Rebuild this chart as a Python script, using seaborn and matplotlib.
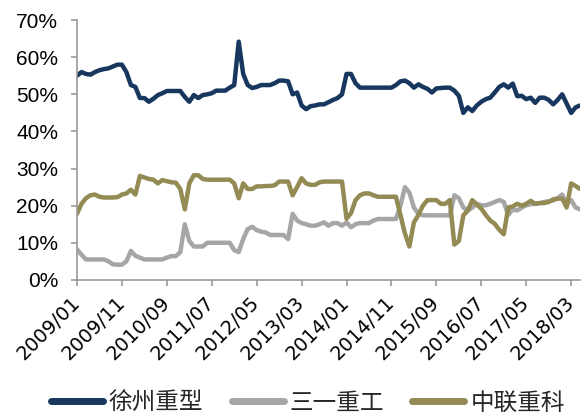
import numpy as np
import pandas as pd
import seaborn as sns
import matplotlib.pyplot as plt
from matplotlib.lines import Line2D

# Monthly market share (%), 2009/01 - 2018/05
months = pd.date_range("2009-01-01", periods=113, freq="MS").strftime("%Y/%m").tolist()

xugong = [55, 56, 55.5, 55.3, 56, 56.5, 56.8, 57, 57.5, 58,
          58, 56, 52.5, 52, 49, 49, 48, 48.8, 49.8, 50.3,
          50.9, 50.9, 50.9, 50.9, 49.3, 48, 49.8, 49, 49.8, 50,
          50.3, 51, 51, 51, 51.8, 52.5, 64.2, 55.5, 52.5, 51.7,
          52, 52.5, 52.5, 52.5, 53, 53.7, 53.7, 53.5, 50, 50.5,
          47, 46, 46.8, 47, 47.3, 47.3, 47.9, 48.5, 49, 50,
          55.5, 55.5, 53, 51.8, 51.8, 51.8, 51.8, 51.8, 51.8, 51.8,
          51.8, 52.5, 53.5, 53.7, 53, 51.8, 52.7, 52, 51.5, 50.5,
          51.6, 51.7, 51.8, 51.8, 51, 49.6, 45, 46.5, 45.5, 47,
          48, 48.7, 49.1, 50.5, 52, 52.7, 51.8, 52.9, 49.5, 49.6,
          48.7, 49.1, 47.7, 49.1, 49.1, 48.5, 47.3, 48.5, 50, 47.5,
          45, 46.5, 47]

sany = [8.2, 6.8, 5.5, 5.5, 5.5, 5.5, 5.5, 5, 4.2, 4.1,
        4.1, 5, 7.8, 6.5, 6, 5.5, 5.5, 5.5, 5.5, 5.5,
        6, 6.4, 6.4, 7.5, 15, 10.5, 9, 9, 9, 10,
        10, 10, 10, 10, 10, 8, 7.5, 11, 13.7, 14.3,
        13.4, 13, 12.8, 12.1, 12.1, 12.1, 12.1, 11, 17.8, 16,
        15.3, 15, 14.6, 14.6, 15, 15.5, 14.6, 15.3, 15.3, 14.6,
        15.5, 14.2, 15, 15.3, 15.3, 15.3, 16, 16.4, 16.4, 16.4,
        16.4, 16.4, 20, 25, 23.5, 19.5, 17.8, 17.4, 17.4, 17.4,
        17.4, 17.4, 17.4, 17.4, 22.8, 22, 19.5, 18.7, 19.5, 20.5,
        20.1, 20.1, 20.5, 21, 21.5, 21, 17.5, 19, 18.7, 19.5,
        20.1, 20.4, 20.5, 20.7, 21, 21.2, 21.4, 22, 23, 20.5,
        21.5, 19.5, 19]

zoomlion = [17.8, 20.5, 22, 22.8, 23, 22.4, 22.2, 22.2, 22.2, 22.3,
            23, 23.3, 24.3, 23, 28, 27.6, 27.2, 27, 26, 26.9,
            26.6, 26.3, 26.2, 24.5, 19, 26, 28.2, 28.2, 27.2, 27,
            27, 27, 27, 27, 27, 26, 22, 26, 24.5, 24.5,
            25.2, 25.2, 25.3, 25.3, 25.5, 26.5, 26.5, 26.5, 22.8, 25,
            27.4, 26, 25.6, 25.6, 26.3, 26.5, 26.5, 26.5, 26.5, 26.5,
            16.5, 18, 21.5, 22.8, 23.3, 23.3, 22.8, 22.4, 22.4, 22.4,
            22.4, 22.4, 17.5, 12.5, 9, 15.5, 17.5, 20, 21.5, 21.5,
            21.5, 20.5, 20.5, 21.5, 9.5, 10.5, 17.4, 18.7, 21.5, 20.3,
            19.2, 17.5, 16, 15.1, 13.5, 12.3, 19.5, 19.8, 20.5, 20,
            20.5, 21.3, 20.5, 20.7, 20.7, 21, 21.7, 21.9, 21.9, 19.5,
            26, 25.3, 24.5]

names = ["徐州重型", "三一重工", "中联重科"]
colors = ["#17375E", "#A6A6A6", "#948A54"]
tick_labels = ["2009/01", "2009/11", "2010/09", "2011/07", "2012/05", "2013/03",
               "2014/01", "2014/11", "2015/09", "2016/07", "2017/05", "2018/03"]
yticks = [0, 10, 20, 30, 40, 50, 60, 70]

df = pd.DataFrame({"idx": np.arange(len(months)), "month": months,
                   names[0]: xugong, names[1]: sany, names[2]: zoomlion})
long = df.melt(id_vars=["idx", "month"], var_name="company", value_name="share")

sns.set_style("white")
plt.rcParams["font.family"] = ["Liberation Sans", "Noto Sans CJK SC", "DejaVu Sans"]

fig = plt.figure(figsize=(5.81, 4.19), dpi=100)
ax = fig.add_axes([0.1325, 0.332, 0.866, 0.62])

sns.lineplot(data=long, x="idx", y="share", hue="company", hue_order=names,
             palette=colors, linewidth=3.2, legend=False, ax=ax)

ax.set_xlim(0, len(months) - 1)
ax.set_ylim(0, 70)
ax.set_yticks(yticks)
ax.set_yticklabels([f"{v}%" for v in yticks], fontsize=15)
ax.set_xticks(range(0, len(months), 10))
ax.set_xticklabels(tick_labels, rotation=45, ha="right", va="center", rotation_mode="anchor",
                   fontsize=14, family="DejaVu Sans")
ax.set_xlabel("")
ax.set_ylabel("")

for s in ["top", "right"]:
    ax.spines[s].set_visible(False)
for s in ["left", "bottom"]:
    ax.spines[s].set_color("#999999")
    ax.spines[s].set_linewidth(1.2)
ax.tick_params(axis="both", direction="out", length=4.5, width=1.2, color="#999999",
               colors="black", left=True, bottom=True)
ax.tick_params(axis="y", pad=9)
ax.tick_params(axis="x", pad=10)

handles = [Line2D([0], [0], color=c, lw=5, solid_capstyle="round") for c in colors]
fig.legend(handles, names, loc="lower center", bbox_to_anchor=(0.53, -0.04), ncol=3,
           frameon=False, handlelength=2.2, handletextpad=0.25, columnspacing=1.2,
           prop={"family": "Noto Sans CJK SC", "size": 17})

fig.savefig("out.png", dpi=100)
